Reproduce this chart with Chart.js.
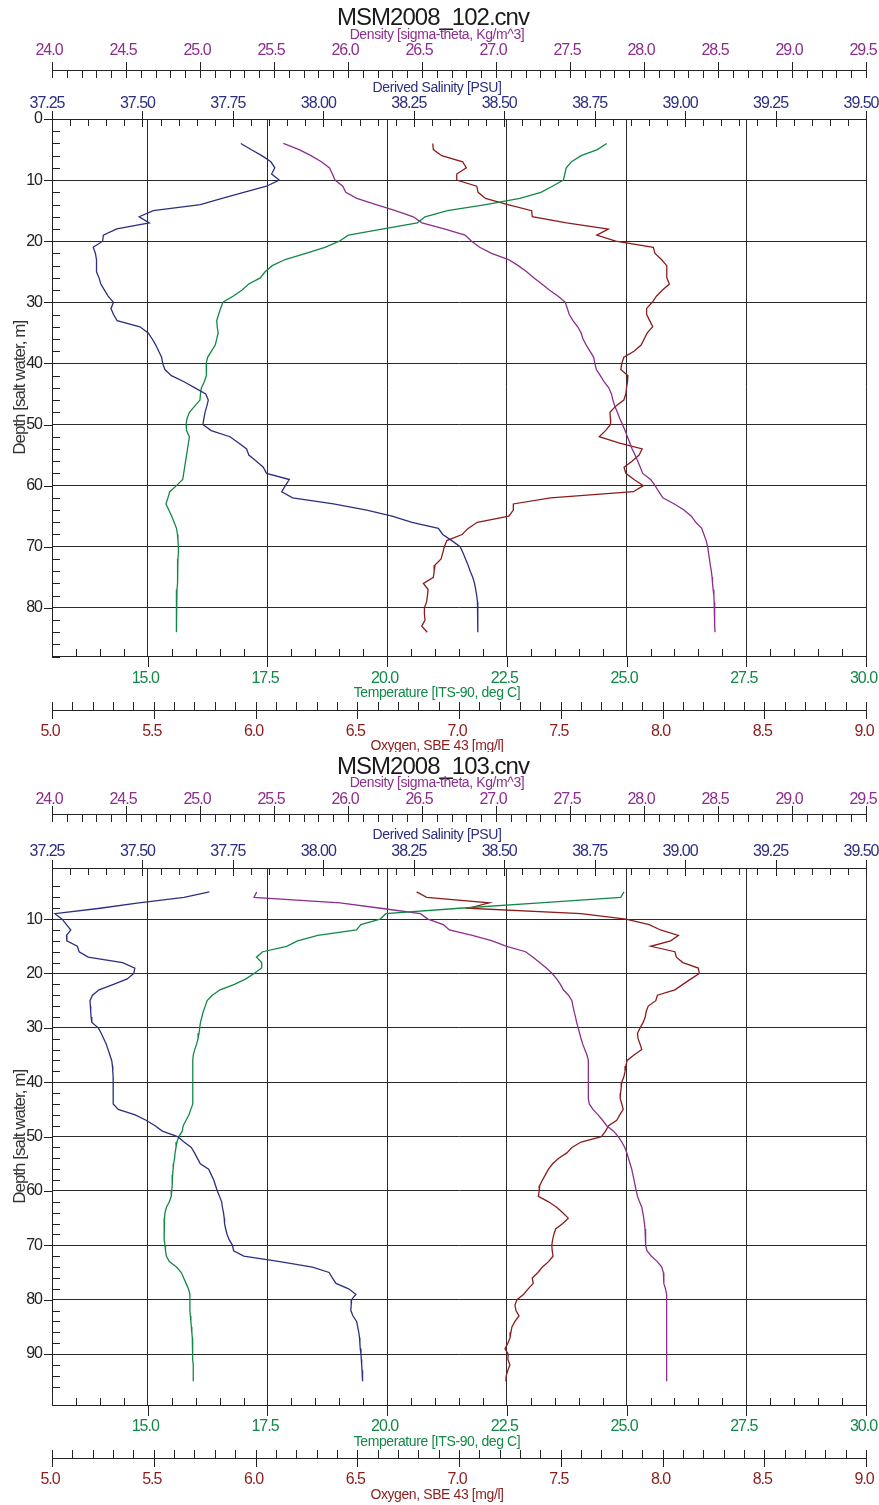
<!DOCTYPE html>
<html>
<head>
<meta charset="utf-8">
<title>MSM2008 CTD profiles</title>
<script src="https://cdn.jsdelivr.net/npm/chart.js@4.4.1/dist/chart.umd.min.js"></script>
<style>
  html, body { margin: 0; padding: 0; background: #fff; }
  canvas { display: block; }
</style>
</head>
<body>
<canvas id="c102" width="879" height="752"></canvas>
<canvas id="c103" width="879" height="753"></canvas>
<script>
// ---- station 102 (1 m bins) ----
const depth102 = [4, 5, 6, 7, 8, 9, 10, 11, 12, 13, 14, 15, 16, 17, 18, 19, 20, 21, 22, 23,
  24, 25, 26, 27, 28, 29, 30, 31, 32, 33, 34, 35, 36, 37, 38, 39, 40, 41, 42, 43,
  44, 45, 46, 47, 48, 49, 50, 51, 52, 53, 54, 55, 56, 57, 58, 59, 60, 61, 62, 63,
  64, 65, 66, 67, 68, 69, 70, 71, 72, 73, 74, 75, 76, 77, 78, 79, 80, 81, 82, 83, 84];
const sal102 = [37.772, 37.800, 37.830, 37.855, 37.866, 37.857, 37.878, 37.843, 37.780, 37.720,
  37.660, 37.530, 37.491, 37.519, 37.429, 37.392, 37.390, 37.364, 37.370, 37.373,
  37.373, 37.373, 37.380, 37.385, 37.395, 37.405, 37.420, 37.413, 37.420, 37.430,
  37.493, 37.516, 37.527, 37.537, 37.545, 37.553, 37.556, 37.562, 37.580, 37.615,
  37.645, 37.675, 37.682, 37.678, 37.673, 37.670, 37.667, 37.690, 37.742, 37.765,
  37.788, 37.794, 37.815, 37.834, 37.843, 37.906, 37.895, 37.885, 37.915, 38.028,
  38.120, 38.190, 38.245, 38.318, 38.330, 38.355, 38.378, 38.386, 38.393, 38.400,
  38.406, 38.413, 38.418, 38.421, 38.424, 38.426, 38.427, 38.427, 38.427, 38.427, 38.427];
const temp102 = [24.585, 24.39, 24.05, 23.85, 23.74, 23.71, 23.68, 23.45, 23.21, 22.77,
  22.06, 21.26, 20.79, 20.63, 19.92, 19.19, 19.00, 18.70, 18.30, 17.87,
  17.60, 17.45, 17.35, 17.11, 16.97, 16.78, 16.57, 16.52, 16.48, 16.44,
  16.45, 16.47, 16.44, 16.41, 16.33, 16.25, 16.22, 16.22, 16.23, 16.18,
  16.12, 16.10, 16.09, 15.98, 15.87, 15.82, 15.80, 15.81, 15.87, 15.85,
  15.83, 15.81, 15.79, 15.77, 15.75, 15.73, 15.60, 15.46, 15.42, 15.38,
  15.44, 15.50, 15.55, 15.60, 15.62, 15.63, 15.64, 15.64, 15.63, 15.63,
  15.62, 15.62, 15.62, 15.61, 15.61, 15.60, 15.60, 15.60, 15.60, 15.59, 15.59];
const dens102 = [25.563, 25.67, 25.75, 25.82, 25.875, 25.895, 25.912, 25.965, 25.985, 26.06,
  26.19, 26.32, 26.441, 26.50, 26.65, 26.791, 26.835, 26.89, 26.97, 27.085,
  27.15, 27.207, 27.255, 27.31, 27.36, 27.42, 27.468, 27.482, 27.495, 27.52,
  27.552, 27.575, 27.588, 27.61, 27.635, 27.66, 27.668, 27.678, 27.705, 27.73,
  27.762, 27.78, 27.79, 27.803, 27.82, 27.836, 27.855, 27.872, 27.888, 27.904,
  27.92, 27.94, 27.958, 27.975, 27.991, 28.045, 28.075, 28.10, 28.127, 28.205,
  28.27, 28.32, 28.35, 28.39, 28.405, 28.42, 28.43, 28.436, 28.442, 28.448,
  28.455, 28.46, 28.463, 28.467, 28.472, 28.474, 28.476, 28.477, 28.478, 28.479, 28.48];
const oxy102 = [6.871, 6.874, 6.915, 7.018, 7.036, 6.989, 6.989, 7.087, 7.094, 7.130,
  7.240, 7.357, 7.360, 7.529, 7.734, 7.677, 7.770, 7.955, 7.963, 7.995,
  8.021, 8.021, 8.021, 8.034, 8.000, 7.970, 7.950, 7.922, 7.922, 7.937,
  7.952, 7.925, 7.910, 7.895, 7.860, 7.810, 7.800, 7.795, 7.830, 7.828,
  7.823, 7.820, 7.810, 7.770, 7.742, 7.744, 7.745, 7.720, 7.689, 7.785,
  7.900, 7.885, 7.850, 7.811, 7.820, 7.860, 7.906, 7.857, 7.450, 7.267,
  7.267, 7.245, 7.090, 7.045, 7.015, 6.940, 6.928, 6.920, 6.912, 6.882,
  6.878, 6.874, 6.825, 6.848, 6.845, 6.841, 6.830, 6.830, 6.833, 6.817, 6.844];

// ---- station 103 (1 m bins) ----
const depth103 = [5, 6, 7, 8, 9, 10, 11, 12, 13, 14, 15, 16, 17, 18, 19, 20, 21, 22, 23, 24,
  25, 26, 27, 28, 29, 30, 31, 32, 33, 34, 35, 36, 37, 38, 39, 40, 41, 42, 43, 44,
  45, 46, 47, 48, 49, 50, 51, 52, 53, 54, 55, 56, 57, 58, 59, 60, 61, 62, 63, 64,
  65, 66, 67, 68, 69, 70, 71, 72, 73, 74, 75, 76, 77, 78, 79, 80, 81, 82, 83, 84,
  85, 86, 87, 88, 89, 90, 91, 92, 93, 94, 95];
const sal103 = [37.685, 37.615, 37.490, 37.383, 37.258, 37.278, 37.290, 37.302, 37.290, 37.291,
  37.320, 37.325, 37.350, 37.445, 37.479, 37.476, 37.458, 37.420, 37.380, 37.362,
  37.355, 37.356, 37.357, 37.358, 37.360, 37.378, 37.386, 37.393, 37.400, 37.405,
  37.410, 37.415, 37.417, 37.418, 37.419, 37.419, 37.419, 37.419, 37.419, 37.420,
  37.433, 37.480, 37.510, 37.535, 37.555, 37.597, 37.615, 37.635, 37.644, 37.652,
  37.660, 37.683, 37.690, 37.697, 37.702, 37.707, 37.713, 37.719, 37.721, 37.724,
  37.726, 37.727, 37.730, 37.734, 37.740, 37.749, 37.752, 37.780, 37.880, 37.970,
  38.016, 38.025, 38.035, 38.070, 38.090, 38.078, 38.077, 38.076, 38.082, 38.092,
  38.095, 38.098, 38.100, 38.101, 38.102, 38.104, 38.105, 38.106, 38.107, 38.108, 38.109];
const temp103 = [24.946, 24.877, 23.19, 21.51, 19.97, 19.85, 19.45, 19.36, 18.55, 18.13,
  17.90, 17.40, 17.27, 17.38, 17.38, 17.22, 17.05, 16.81, 16.51, 16.35,
  16.24, 16.20, 16.16, 16.13, 16.10, 16.085, 16.07, 16.05, 16.02, 15.98,
  15.95, 15.94, 15.94, 15.94, 15.94, 15.94, 15.94, 15.94, 15.94, 15.94,
  15.90, 15.86, 15.80, 15.74, 15.72, 15.65, 15.61, 15.59, 15.57, 15.56,
  15.54, 15.53, 15.52, 15.51, 15.51, 15.50, 15.49, 15.45, 15.39, 15.36,
  15.35, 15.34, 15.34, 15.34, 15.35, 15.36, 15.37, 15.39, 15.45, 15.60,
  15.70, 15.75, 15.80, 15.85, 15.88, 15.88, 15.88, 15.88, 15.89, 15.90,
  15.91, 15.92, 15.93, 15.93, 15.94, 15.94, 15.94, 15.95, 15.95, 15.95, 15.95];
const dens103 = [25.383, 25.365, 25.946, 26.22, 26.49, 26.54, 26.644, 26.685, 26.84, 26.975,
  27.072, 27.20, 27.25, 27.295, 27.34, 27.38, 27.41, 27.435, 27.455, 27.49,
  27.513, 27.52, 27.528, 27.537, 27.545, 27.555, 27.565, 27.575, 27.586, 27.60,
  27.615, 27.624, 27.624, 27.624, 27.624, 27.624, 27.624, 27.624, 27.624, 27.63,
  27.655, 27.69, 27.72, 27.748, 27.795, 27.826, 27.85, 27.87, 27.884, 27.895,
  27.906, 27.917, 27.925, 27.933, 27.94, 27.948, 27.956, 27.97, 27.985, 27.992,
  27.998, 28.003, 28.007, 28.009, 28.011, 28.013, 28.02, 28.05, 28.09, 28.12,
  28.131, 28.133, 28.135, 28.145, 28.153, 28.153, 28.153, 28.153, 28.153, 28.153,
  28.153, 28.153, 28.153, 28.153, 28.153, 28.153, 28.153, 28.153, 28.153, 28.153, 28.153];
const oxy103 = [6.792, 6.841, 7.149, 7.046, 7.60, 7.82, 7.935, 7.99, 8.078, 8.04,
  7.942, 8.061, 8.068, 8.10, 8.176, 8.181, 8.14, 8.10, 8.061, 7.975,
  7.967, 7.93, 7.92, 7.915, 7.905, 7.89, 7.877, 7.88, 7.89, 7.898,
  7.86, 7.826, 7.82, 7.816, 7.81, 7.80, 7.797, 7.794, 7.792, 7.80,
  7.807, 7.79, 7.775, 7.735, 7.72, 7.70, 7.60, 7.555, 7.53, 7.49,
  7.46, 7.44, 7.425, 7.41, 7.397, 7.394, 7.39, 7.44, 7.48, 7.51,
  7.537, 7.51, 7.475, 7.466, 7.46, 7.456, 7.458, 7.462, 7.44, 7.41,
  7.388, 7.36, 7.365, 7.34, 7.318, 7.285, 7.275, 7.28, 7.295, 7.275,
  7.26, 7.255, 7.251, 7.24, 7.226, 7.242, 7.24, 7.25, 7.24, 7.232, 7.23];

// axis ranges: [min, max, minor step, major step, decimals]
const salAxis = [37.25, 39.5, 0.05, 0.25, 2];
const densAxis = [24.0, 29.5, 0.1, 0.5, 1];
const tempAxis = [13.0, 30.0, 0.5, 2.5, 1];
const oxyAxis = [5.0, 9.0, 0.1, 0.5, 1];

const FONT = "'Liberation Sans', Arial, Helvetica, sans-serif";
const INK = '#222';
const GRID = '#2b2b2b';
const C_SAL = '#2c2f80';
const C_DENS = '#8c2e8e';
const C_TEMP = '#128846';
const C_OXY = '#8c1c1c';
const NONE = 'rgba(0,0,0,0)';

function isMultiple(v, m) {
  return Math.abs(v / m - Math.round(v / m)) < 1e-6;
}

// tick marks, axis captions and the tight lettering of the plotting package
const profileFrame = {
  id: 'profileFrame',
  beforeDraw(chart) {
    chart.ctx.letterSpacing = '-1px';
  },
  afterDraw(chart, args, opts) {
    const { ctx, chartArea: a, scales } = chart;
    const px = v => Math.round(v) + 0.5;
    ctx.save();
    ctx.strokeStyle = INK;
    ctx.lineWidth = 1;
    ctx.beginPath();
    const seg = (x1, y1, x2, y2) => { ctx.moveTo(x1, y1); ctx.lineTo(x2, y2); };

    const marks = [
      ['sal', salAxis[3], a.top, [0, 7], [-8, 8]],
      ['dens', densAxis[3], scales.dens.bottom, [0, 8], [-8, 8]],
      ['temp', tempAxis[3], a.bottom, [-8, 0], [0, 10]],
      ['oxy', oxyAxis[3], scales.oxy.top, [-8, 0], [-8, 9]],
    ];
    for (const [id, major, base, minorLen, majorLen] of marks) {
      const s = scales[id];
      const y = Math.round(base);
      for (const t of s.ticks) {
        const x = px(s.getPixelForValue(t.value));
        const len = isMultiple(t.value, major) ? majorLen : minorLen;
        seg(x, y + len[0], x, y + len[1]);
      }
    }
    const ys = scales.y;
    const x0 = Math.round(a.left);
    for (const t of ys.ticks) {
      if (!isMultiple(t.value, 2)) continue;
      const y = px(ys.getPixelForValue(t.value));
      if (isMultiple(t.value, 10)) seg(x0 - 8, y, x0, y);
      else seg(x0, y, x0 + 8, y);
    }
    ctx.stroke();

    ctx.letterSpacing = '-0.4px';
    ctx.font = '14px ' + FONT;
    ctx.textAlign = 'center';
    ctx.textBaseline = 'middle';
    for (const c of opts.captions) {
      ctx.fillStyle = c.color;
      ctx.fillText(c.text, opts.cx, c.y);
    }
    ctx.restore();
  }
};

function xScale(axis, position, weight, color, height, pad, shift, withGrid) {
  const [min, max, step, major, digits] = axis;
  return {
    type: 'linear', axis: 'x', position, weight, min, max,
    afterFit(s) { s.height = height; s.paddingLeft = 0; s.paddingRight = 0; },
    ticks: {
      stepSize: step, autoSkip: false, maxRotation: 0, minRotation: 0, padding: pad,
      labelOffset: shift, color, font: { family: FONT, size: 16 },
      callback: v => isMultiple(v, major) ? v.toFixed(digits) : ''
    },
    grid: withGrid
      ? { drawTicks: false, lineWidth: 1, color: c => (c.tick && isMultiple(c.tick.value, major)) ? GRID : NONE }
      : { drawTicks: false, drawOnChartArea: false },
    border: { display: true, color: INK, width: 1 }
  };
}

function series(depth, values, axisId, color) {
  return {
    data: depth.map((d, i) => ({ x: values[i], y: d })),
    xAxisID: axisId, yAxisID: 'y',
    borderColor: color, borderWidth: 1.3,
    pointRadius: 0, fill: false, tension: 0
  };
}

function drawStation(canvasId, name, depth, sal, dens, temp, oxy, L) {
  new Chart(document.getElementById(canvasId), {
    type: 'line',
    data: {
      datasets: [
        series(depth, sal, 'sal', C_SAL),
        series(depth, temp, 'temp', C_TEMP),
        series(depth, dens, 'dens', C_DENS),
        series(depth, oxy, 'oxy', C_OXY)
      ]
    },
    options: {
      responsive: false,
      animation: false,
      events: [],
      layout: { padding: { left: 0, right: 13, top: 0, bottom: 0 } },
      scales: {
        y: {
          type: 'linear', position: 'left', reverse: true, min: L.yMin, max: L.yMax,
          afterFit(s) { s.width = 52; s.paddingTop = 0; s.paddingBottom = 0; },
          ticks: {
            stepSize: 2, autoSkip: false, padding: 10, color: INK,
            font: { family: FONT, size: 16 },
            callback: v => isMultiple(v, 10) ? String(v) : ''
          },
          grid: { drawTicks: false, lineWidth: 1, color: c => (c.tick && isMultiple(c.tick.value, 10)) ? GRID : NONE },
          border: { display: true, color: INK, width: 1 },
          title: {
            display: true, text: 'Depth [salt water, m]', color: '#333',
            font: { family: FONT, size: 17 }, padding: { top: 10, bottom: 0 }
          }
        },
        sal: xScale(salAxis, 'top', 0, C_SAL, L.salH, L.salPad, -5, false),
        dens: xScale(densAxis, 'top', 1, C_DENS, L.densH, L.densPad, -3, false),
        temp: xScale(tempAxis, 'bottom', 0, C_TEMP, L.tempH, L.tempPad, -2.5, true),
        oxy: xScale(oxyAxis, 'bottom', 1, C_OXY, L.oxyH, L.oxyPad, -2, false)
      },
      plugins: {
        legend: { display: false },
        tooltip: { enabled: false },
        title: {
          display: true, text: name, color: '#1a1a1a',
          font: { family: FONT, size: 24, weight: 'normal', lineHeight: 1 },
          padding: { top: L.titlePad, bottom: 0 }
        },
        profileFrame: {
          cx: 437,
          captions: [
            { text: 'Density [sigma-theta, Kg/m^3]', color: C_DENS, y: L.capDens },
            { text: 'Derived Salinity [PSU]', color: C_SAL, y: L.capSal },
            { text: 'Temperature [ITS-90, deg C]', color: C_TEMP, y: L.capTemp },
            { text: 'Oxygen, SBE 43 [mg/l]', color: C_OXY, y: L.capOxy }
          ]
        }
      }
    },
    plugins: [profileFrame]
  });
}

drawStation('c102', 'MSM2008_102.cnv', depth102, sal102, dens102, temp102, oxy102, {
  yMin: 0, yMax: 88, titlePad: 6.3,
  densH: 39.7, densPad: 9.7, salH: 49, salPad: 5.4,
  tempH: 53.3, tempPad: 12.7, oxyH: 42, oxyPad: 12.1,
  capDens: 35, capSal: 88, capTemp: 693.3, capOxy: 746
});

drawStation('c103', 'MSM2008_103.cnv', depth103, sal103, dens103, temp103, oxy103, {
  yMin: 0.6, yMax: 99.5, titlePad: 3,
  densH: 35, densPad: 4.4, salH: 54, salPad: 6.7,
  tempH: 52.6, tempPad: 11.7, oxyH: 46.7, oxyPad: 11.4,
  capDens: 31, capSal: 83, capTemp: 689.7, capOxy: 743
});
</script>
</body>
</html>
